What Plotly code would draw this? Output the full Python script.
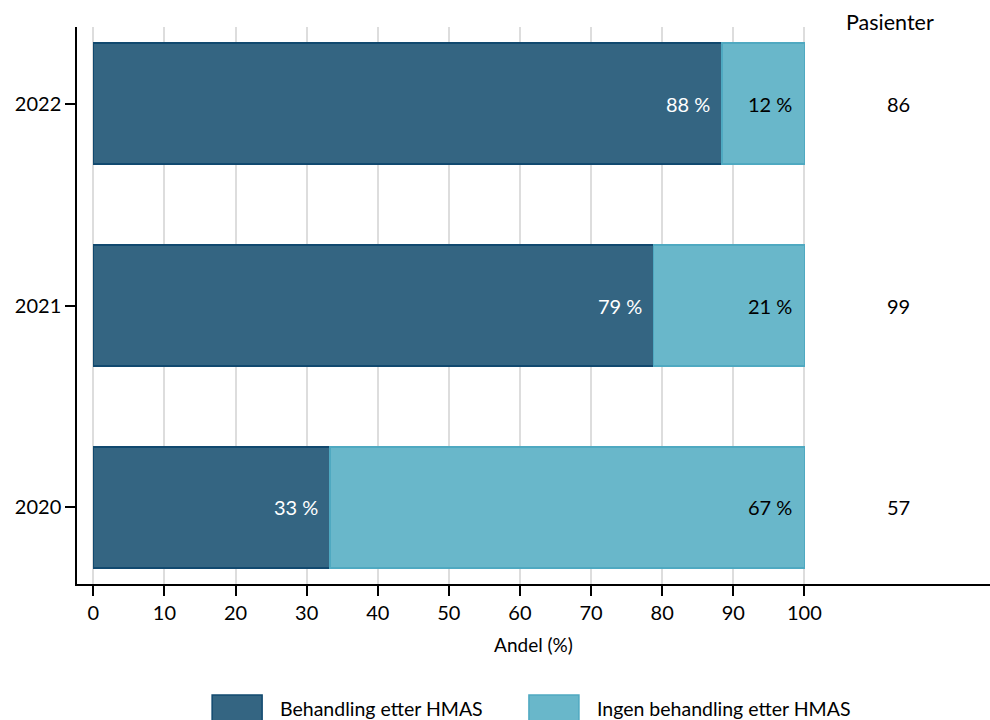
import plotly.graph_objects as go

years = ["2020", "2021", "2022"]
behandling = [33.3, 78.8, 88.4]
ingen = [66.7, 21.2, 11.6]
pasienter = [57, 99, 86]
label_beh = ["33 %", "79 %", "88 %"]
label_ing = ["67 %", "21 %", "12 %"]
series_names = ["Behandling etter HMAS", "Ingen behandling etter HMAS"]
xticks = [0, 10, 20, 30, 40, 50, 60, 70, 80, 90, 100]

DARK = "#346582"
DARK_LINE = "#11496f"
LIGHT = "#69b7ca"
LIGHT_LINE = "#4fa9c1"
FONT = "Lato"

fig = go.Figure()
fig.add_trace(go.Bar(y=years, x=behandling, orientation="h", name=series_names[0],
                     marker=dict(color=DARK, line=dict(color=DARK_LINE, width=1.5)),
                     width=0.6, showlegend=False, hoverinfo="skip"))
fig.add_trace(go.Bar(y=years, x=ingen, orientation="h", name=series_names[1],
                     marker=dict(color=LIGHT, line=dict(color=LIGHT_LINE, width=1.5)),
                     width=0.6, showlegend=False, hoverinfo="skip"))

annotations = []
for i, y in enumerate(years):
    annotations.append(dict(x=behandling[i], y=i, xref="x", yref="y", text=label_beh[i],
                            showarrow=False, xanchor="right", xshift=-10,
                            font=dict(family=FONT, size=20, color="white")))
    annotations.append(dict(x=behandling[i] + ingen[i], y=i, xref="x", yref="y", text=label_ing[i],
                            showarrow=False, xanchor="right", xshift=-10,
                            font=dict(family=FONT, size=20, color="black")))
    annotations.append(dict(x=113.3, y=i, xref="x", yref="y", text=str(pasienter[i]),
                            showarrow=False, xanchor="center",
                            font=dict(family=FONT, size=20, color="black")))

annotations.append(dict(x=112.1, y=1.009, xref="x", yref="paper", text="Pasienter",
                        showarrow=False, xanchor="center", yanchor="middle",
                        font=dict(family=FONT, size=21.5, color="black")))

# legend drawn manually (large boxes)
shapes = []
leg = [(0.148, DARK, DARK_LINE, series_names[0]), (0.495, LIGHT, LIGHT_LINE, series_names[1])]
for x0, fc, lc, name in leg:
    w = 50 / 913
    shapes.append(dict(type="rect", xref="paper", yref="paper", x0=x0, x1=x0 + w,
                       y0=(584 - 722) / 557, y1=(584 - 695) / 557,
                       fillcolor=fc, line=dict(color=lc, width=1.5)))
    annotations.append(dict(x=x0 + w + 16 / 913, y=(584 - 708) / 557, xref="paper", yref="paper",
                            text=name, showarrow=False, xanchor="left", yanchor="middle",
                            font=dict(family=FONT, size=19.5, color="black")))

fig.update_layout(
    barmode="stack",
    width=990, height=720,
    margin=dict(l=77, r=0, t=27, b=136),
    plot_bgcolor="white", paper_bgcolor="white",
    font=dict(family=FONT, size=20, color="black"),
    annotations=annotations,
    shapes=shapes,
    showlegend=False,
    hovermode=False,
    xaxis=dict(range=[-2.29, 126.1], tickvals=xticks, ticktext=[str(v) for v in xticks],
               showgrid=True, gridcolor="#dddddd", gridwidth=2,
               showline=True, linecolor="black", linewidth=1.5,
               ticks="outside", ticklen=10, tickwidth=1.5, tickcolor="black",
               tickfont=dict(family=FONT, size=20), zeroline=False,
               title=dict(text="Andel (%)", font=dict(family=FONT, size=19), standoff=16)),
    yaxis=dict(type="category", range=[-0.38, 2.38], categoryorder="array", categoryarray=years,
               showgrid=False, showline=True, linecolor="black", linewidth=1.5,
               ticks="outside", ticklen=10, tickwidth=1.5, tickcolor="black",
               tickfont=dict(family=FONT, size=20), zeroline=False),
)

fig.write_html("out.html", config={"displayModeBar": False},
               post_script="document.body.style.margin='0';document.body.style.padding='0';")
